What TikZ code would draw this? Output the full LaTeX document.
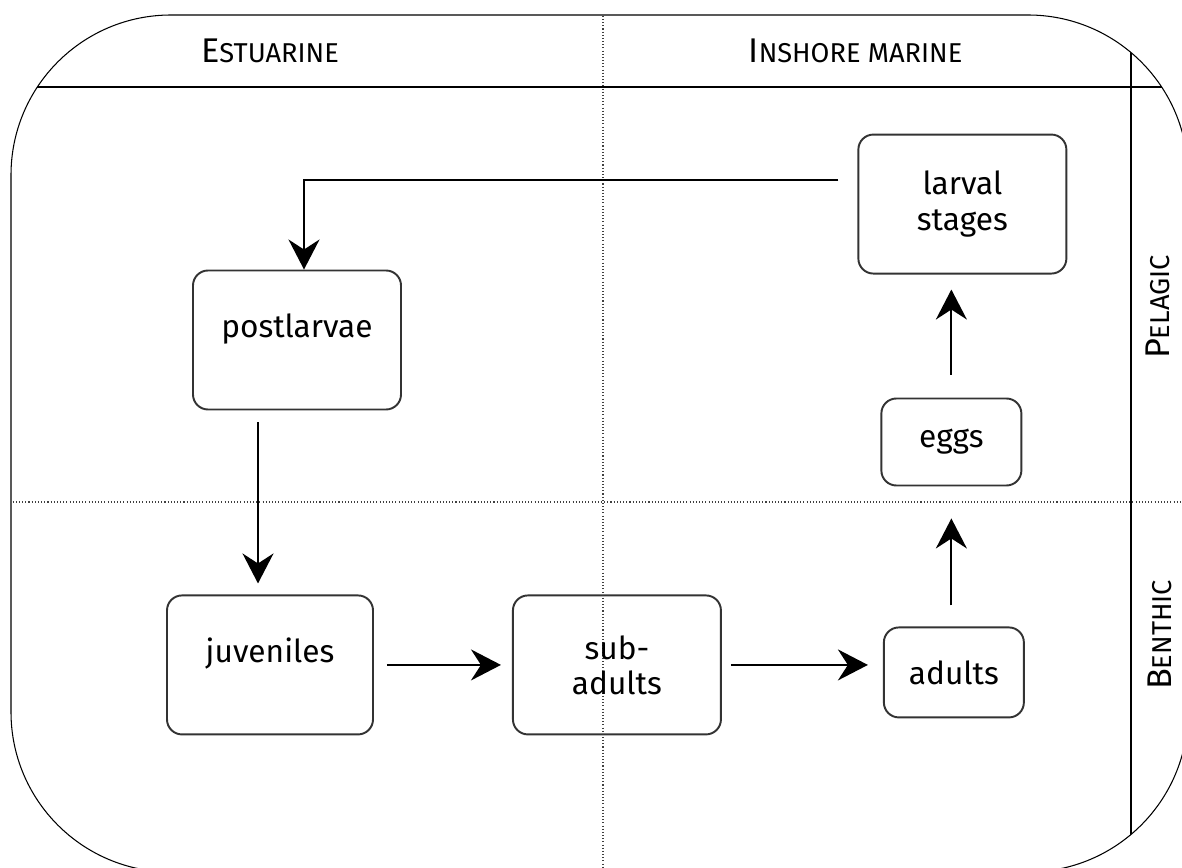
\documentclass[tikz,border=0pt]{standalone}
\usepackage{fontspec}
\setmainfont{Fira Sans}
\usepackage{tikz}
\usetikzlibrary{positioning, calc}
\usetikzlibrary{arrows.meta}
\newcommand{\zonename}[2]{{\fontsize{19.5}{24}\selectfont #1}{\fontsize{15.5}{19}\selectfont #2}}
\tikzstyle{stage} = [rectangle, rounded corners=.3cm, minimum width=4.16cm, minimum height=2.78cm, text centered, align=center, draw=black!80, line width=1.1pt, font=\fontsize{18}{20}\selectfont]
\tikzstyle{smallstage} = [stage, minimum width=2.8cm, minimum height=1.8cm]
\tikzstyle{textup} = [text height=.4cm, text depth=.5cm]
\tikzstyle{zone} = [inner sep=0pt]
\tikzstyle{divide} = [black!75, line width=.6pt, dash pattern=on .6pt off 1.2pt]
\tikzstyle{arrow} = [line width=1.2pt, -{Stealth[length=.6cm, width=.62cm, inset=.2cm]}]

\begin{document}
\begin{tikzpicture}
            \useasboundingbox (0,0) rectangle (23.64,-17.36);
            \begin{scope}
                \clip[rounded corners=3.2cm] (.22,-.3) rectangle (23.76,-17.44);
                \draw[black, line width=.8pt] (0,-1.74) -- (23.64,-1.74);
                \draw[black, line width=.8pt] (22.62,0) -- (22.62,-17.36);
                \draw[divide] (12.06,0) -- (12.06,-17.36);
                \draw[divide] (0,-10.04) -- (23.64,-10.04);
            \end{scope}
            \draw[black, line width=.6pt, rounded corners=3.2cm] (.22,-.3) rectangle (23.76,-17.44);

            \node (estuarine) [zone] at (5.4,-1.01) {\zonename{E}{STUARINE}};
            \node (inshore) [zone] at (17.11,-1.01) {\zonename{I}{NSHORE MARINE}};
            \node (pelagic) [zone, rotate=90] at (23.16,-6.14) {\zonename{P}{ELAGIC}};
            \node (benthic) [zone, rotate=90] at (23.2,-12.7) {\zonename{B}{ENTHIC}};

            \node (postlarvae) [stage, textup] at (5.94,-6.8) {postlarvae};
            \node (juveniles) [stage, textup, minimum width=4.12cm, below=3.68cm of postlarvae, xshift=-.54cm] {juveniles};
            \node (subadults) [stage, right=2.76cm of juveniles] {sub-\\adults};
            \node (adults) [smallstage, right=3.22cm of subadults, yshift=-.15cm] {adults};
            \node (eggs) [smallstage, minimum height=1.74cm, above=2.8cm of adults, xshift=-.05cm] {eggs};
            \node (larval) [stage, above=2.46cm of eggs, xshift=.22cm] {larval\\stages};

            \draw [arrow] ($(larval.west)+(-.38,.49)$) -| ($(postlarvae.north)+(.14,0)$);
            \draw [arrow] ($(postlarvae.south)+(-.78,-.24)$) -- ($(juveniles.north)+(-.24,.22)$);
            \draw [arrow] ($(juveniles.east)+(.26,0)$) -- ($(subadults.west)+(-.22,0)$);
            \draw [arrow] ($(subadults.east)+(.18,0)$) -- ($(adults.west)+(-.3,.15)$);
            \draw [arrow] ($(adults.north)+(-.05,.42)$) -- ($(eggs.south)+(0,-.64)$);
            \draw [arrow] ($(eggs.north)+(0,.46)$) -- ($(larval.south)+(-.22,-.3)$);
        \end{tikzpicture}
\end{document}
